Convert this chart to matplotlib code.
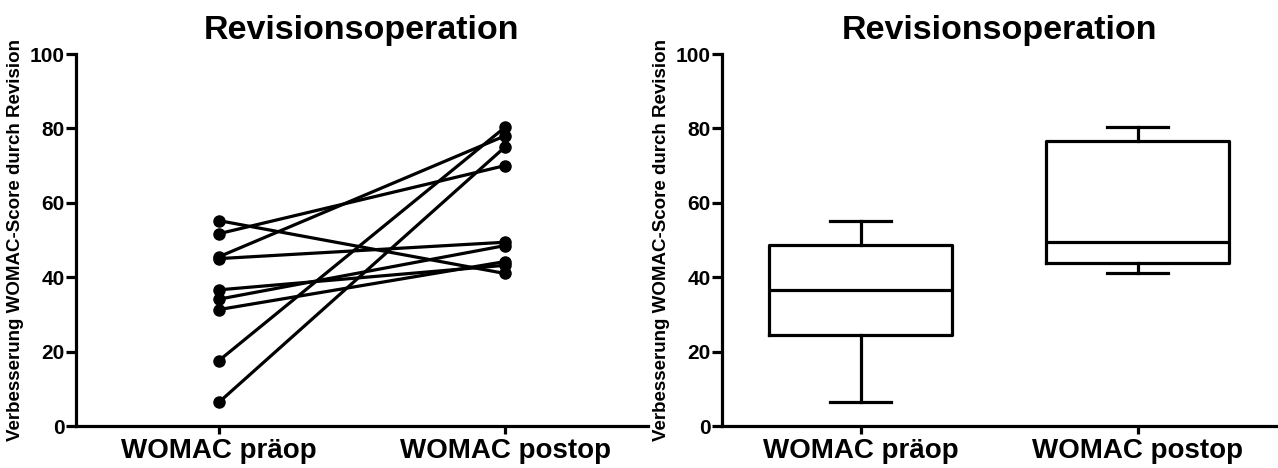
import numpy as np
import matplotlib
matplotlib.use("Agg")
import matplotlib.pyplot as plt

categories = ["WOMAC präop", "WOMAC postop"]
pre = [55.2, 51.7, 45.5, 45.0, 36.6, 34.1, 31.3, 17.6, 6.4]
post = [41.0, 70.0, 78.0, 49.4, 43.2, 48.5, 44.2, 80.3, 75.0]
yticks = [0, 20, 40, 60, 80, 100]
title = "Revisionsoperation"
ylabel = "Verbesserung WOMAC-Score durch Revision"

plt.rcParams['font.family'] = ['Liberation Sans', 'DejaVu Sans']

W, H = 1278, 468
fig = plt.figure(figsize=(W / 100, H / 100), dpi=100)
axL = fig.add_axes([76 / W, (H - 426) / H, 572 / W, 372 / H])
axR = fig.add_axes([722 / W, (H - 426) / H, 554 / W, 372 / H])

lw = 2.3
xs = [1, 2]
for a, b in zip(pre, post):
    axL.plot(xs, [a, b], color='black', lw=lw, marker='o', markersize=8,
             solid_capstyle='round', zorder=3)

# Box plot (GraphPad-style quartiles: n+1 method), whiskers min to max
stats = []
for vals, lab in zip([pre, post], categories):
    v = np.asarray(vals)
    stats.append(dict(
        med=np.percentile(v, 50, method='weibull'),
        q1=np.percentile(v, 25, method='weibull'),
        q3=np.percentile(v, 75, method='weibull'),
        whislo=v.min(), whishi=v.max(), fliers=[], label=lab))
props = dict(color='black', linewidth=lw)
axR.bxp(stats, positions=xs, widths=0.66, capwidths=0.22, showfliers=False,
        boxprops=props, medianprops=props, whiskerprops=props, capprops=props)

for ax in (axL, axR):
    ax.set_xlim(0.5, 2.5)
    ax.set_ylim(0, 100)
    ax.set_yticks(yticks)
    ax.set_xticks(xs)
    ax.set_xticklabels(categories, fontsize=20, fontweight='bold')
    ax.set_yticklabels([str(t) for t in yticks], fontsize=15,
                       fontweight='bold')
    for s in ('top', 'right'):
        ax.spines[s].set_visible(False)
    for s in ('left', 'bottom'):
        ax.spines[s].set_linewidth(lw)
        ax.spines[s].set_capstyle('projecting')
    ax.tick_params(axis='y', length=7, width=lw, pad=1)
    ax.tick_params(axis='x', length=6, width=lw, pad=3)
    ax.set_title(title, fontsize=24.5, fontweight='bold', pad=11)
    ax.set_ylabel(ylabel, fontsize=13.5, fontweight='bold', labelpad=4)

fig.savefig("out.png", dpi=100)
